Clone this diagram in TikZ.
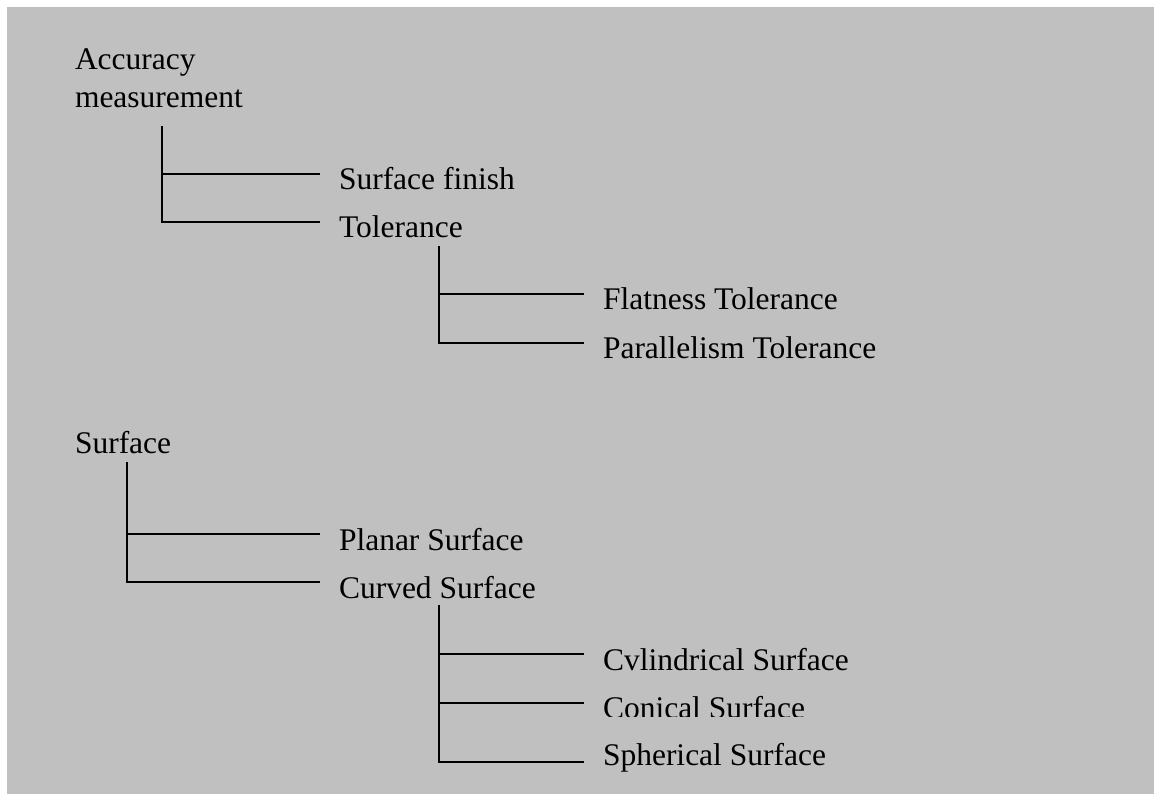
\documentclass[tikz,border=0pt]{standalone}
\usepackage{fontspec}
\setmainfont{Liberation Serif}
\begin{document}
\begin{tikzpicture}[x=1pt,y=-1pt,
  label text/.style={anchor=base west,inner sep=0pt,outer sep=0pt,
    font=\fontsize{31.5}{38}\selectfont},
  tree line/.style={draw=black,line width=1.5pt,line cap=rect}]
\useasboundingbox (0,0) rectangle (1154,794);
\fill[white] (0,0) rectangle (1154,794);
\fill[fill={rgb,255:red,192;green,192;blue,192}] (7,7) rectangle (1154,794);

% first tree
\node[label text] (acc) at (75,70) {\vtop{\hbox{Accuracy}\hbox{measurement}}};
\node[label text] (sf)  at (339,190) {Surface finish};
\node[label text] (tol) at (339,238) {Tolerance};
\node[label text] (flt) at (603,310) {Flatness Tolerance};
\node[label text] (par) at (603,359) {Parallelism Tolerance};
\coordinate (accstem) at (162,127);
\coordinate (tolstem) at (439,247);

\draw[tree line] (accstem) |- ([xshift=-20pt,yshift=16pt]sf.base west);
\draw[tree line] (accstem) |- ([xshift=-20pt,yshift=16pt]tol.base west);
\draw[tree line] (tolstem) |- ([xshift=-20pt,yshift=16pt]flt.base west);
\draw[tree line] (tolstem) |- ([xshift=-20pt,yshift=16pt]par.base west);

% second tree
\node[label text] (srf) at (75,453) {Surface};
\node[label text] (pla) at (339,550) {Planar Surface};
\node[label text] (cur) at (339,598) {Curved Surface};
\node[label text] (cyl) at (603,670) {Cvlindrical Surface};
\begin{scope}
  \clip (590,680) rectangle (900,716.5);
  \node[label text] (con) at (603,718) {Conical Surface};
\end{scope}
\node[label text] (sph) at (603,765) {Spherical Surface};
\coordinate (srfstem) at (127,463);
\coordinate (curstem) at (439,606);

\draw[tree line] (srfstem) |- ([xshift=-20pt,yshift=16pt]pla.base west);
\draw[tree line] (srfstem) |- ([xshift=-20pt,yshift=16pt]cur.base west);
\draw[tree line] (curstem) |- ([xshift=-20pt,yshift=16pt]cyl.base west);
\draw[tree line] (curstem) |- ([xshift=-20pt,yshift=15pt]con.base west);
\draw[tree line] (curstem) |- ([xshift=-20pt,yshift=3pt]sph.base west);
\end{tikzpicture}
\end{document}
